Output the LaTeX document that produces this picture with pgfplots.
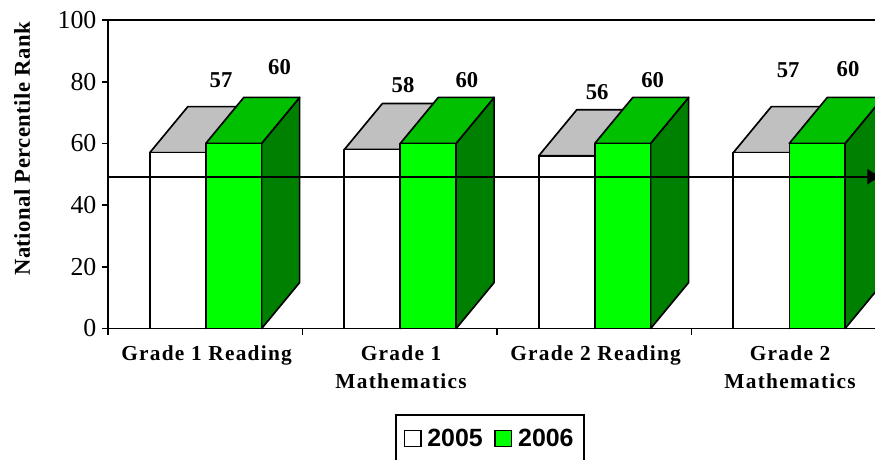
\documentclass[border=0pt]{standalone}
\usepackage{fontspec}
\setmainfont{Liberation Serif}
\newfontfamily\legfont{Liberation Sans}[BoldFont=Liberation Sans Bold]
\newfontfamily\spaced{Liberation Serif}[LetterSpace=6]
\newfontfamily\yspaced{Liberation Serif}[LetterSpace=2]
\usepackage{pgfplots}
\pgfplotsset{compat=1.18}
\usetikzlibrary{arrows.meta}
\definecolor{topgray}{HTML}{C0C0C0}
\definecolor{frontgreen}{HTML}{00FF00}
\definecolor{topgreen}{HTML}{00C000}
\definecolor{sidegreen}{HTML}{008000}
% #1 x0, #2 x1, #3 x0+d, #4 x1+d, #5 value, #6 value+depth, #7 front, #8 top, #9 side
\newcommand\barbox[9]{%
  \addplot[draw=black,line width=1.25pt,line join=round,fill=#9] coordinates {(#2,0) (#4,14.9) (#4,#6) (#2,#5)} -- cycle;
  \addplot[draw=black,line width=1.25pt,line join=round,fill=#8] coordinates {(#1,#5) (#3,#6) (#4,#6) (#2,#5)} -- cycle;
  \addplot[draw=black,line width=1.25pt,line join=round,fill=#7] coordinates {(#1,0) (#2,0) (#2,#5) (#1,#5)} -- cycle;
}
\begin{document}
\begin{tikzpicture}
\clip[use as bounding box] (-81pt,-98.625pt) rectangle (575.25pt,246.375pt);
\begin{axis}[
  at={(0,0)},anchor=origin,
  scale only axis,
  width=583.5pt,height=231.4pt,
  xmin=0,xmax=4,ymin=0,ymax=100,
  axis line style={line width=1.4pt},
  axis x line*=bottom,
  axis y line*=left,
  ytick={0,20,40,60,80,100},
  /pgf/number format/assume math mode=true,
  yticklabel style={font=\fontsize{19.4}{22}\selectfont,inner sep=1pt,xshift=-3pt},
  y tick style={line width=1.25pt,black},
  tick align=outside,
  major tick length=4.5pt,
  xtick={0.5,1.5,2.5,3.5},
  xticklabels={{Grade 1 Reading},{Grade 1\\Mathematics},{Grade 2 Reading},{Grade 2\\Mathematics}},
  x tick style={draw=none},
  xticklabel style={align=center,font=\fontsize{16}{21}\selectfont\spaced\bfseries,yshift=-5pt,xshift=1pt},
  minor xtick={0,1,2,3,4},
  minor x tick style={draw=black,line width=1.25pt},
  minor tick length=4.5pt,
  ylabel={National Percentile Rank},
  every axis y label/.style={at={(axis description cs:-0.1105,0.582)},anchor=center,rotate=90,font=\fontsize{17}{20}\selectfont\yspaced\bfseries},
  clip=false,
  legend columns=2,
  legend style={at={(axis description cs:0.491,-0.277)},anchor=north,draw=black,line width=1.25pt,
    font=\fontsize{18.7}{24}\selectfont\legfont\bfseries,inner xsep=6pt,inner ysep=8.75pt,
    /tikz/every even column/.style={column sep=6.75pt},
    /tikz/every odd column/.style={column sep=2.25pt}},
  legend image code/.code={\draw[#1,line width=1pt] (0pt,-6pt) rectangle (12.5pt,6pt);},
]
\addlegendimage{fill=white,draw=black}
\addlegendentry{2005}
\addlegendimage{fill=frontgreen,draw=black}
\addlegendentry{2006}
% 2005 / 2006 boxes
\barbox{0.215}{0.503}{0.4104}{0.6984}{57}{71.9}{white}{topgray}{topgray}
\barbox{0.503}{0.79}{0.6984}{0.9854}{60}{74.9}{frontgreen}{topgreen}{sidegreen}
\barbox{1.215}{1.503}{1.4104}{1.6984}{58}{72.9}{white}{topgray}{topgray}
\barbox{1.503}{1.79}{1.6984}{1.9854}{60}{74.9}{frontgreen}{topgreen}{sidegreen}
\barbox{2.215}{2.503}{2.4104}{2.6984}{56}{70.9}{white}{topgray}{topgray}
\barbox{2.503}{2.79}{2.6984}{2.9854}{60}{74.9}{frontgreen}{topgreen}{sidegreen}
\barbox{3.215}{3.503}{3.4104}{3.6984}{57}{71.9}{white}{topgray}{topgray}
\barbox{3.503}{3.79}{3.6984}{3.9854}{60}{74.9}{frontgreen}{topgreen}{sidegreen}
% top line and reference arrow
\addplot[black,line width=1.4pt] coordinates {(0,100) (4,100)};
\addplot[black,line width=1.2pt,-{Latex[length=11pt,width=12pt]}] coordinates {(0,49.2) (3.98,49.2)};
% value labels
\begin{scope}[every node/.style={font=\fontsize{17}{20}\selectfont\bfseries}]
\node at (axis cs:0.581,80.5) {57};
\node at (axis cs:0.882,84.7) {60};
\node at (axis cs:1.517,78.9) {58};
\node at (axis cs:1.845,80.5) {60};
\node at (axis cs:2.515,76.5) {56};
\node at (axis cs:2.80,80.5) {60};
\node at (axis cs:3.497,83.7) {57};
\node at (axis cs:3.805,84.2) {60};
\end{scope}
\end{axis}
\end{tikzpicture}
\end{document}
